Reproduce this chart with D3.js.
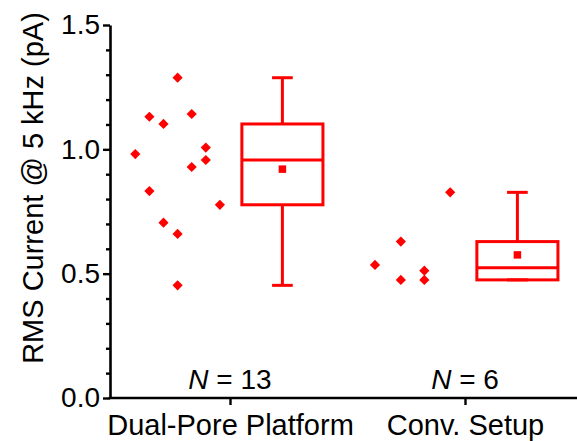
<!DOCTYPE html>
<html>
<head>
<meta charset="utf-8">
<script src="https://cdn.jsdelivr.net/npm/d3@7"></script>
<style>
  body { margin: 0; background: #fff; }
  svg { display: block; font-family: "Liberation Sans", Arial, sans-serif; }
</style>
</head>
<body>
<svg width="577" height="441"></svg>
<script>
var categories = ["Dual-Pore Platform", "Conv. Setup"];
var nLabels = ["13", "6"];

// RMS current values (pA) and their jitter offsets (category units)
var dualValues = [1.288, 1.142, 1.131, 1.102, 1.007, 0.981, 0.957, 0.929, 0.832, 0.777, 0.705, 0.660, 0.453];
var dualJitter = [0, 0.06, -0.12, -0.06, 0.12, -0.18, 0.12, 0.06, -0.12, 0.18, -0.06, 0, 0];
var convValues = [0.827, 0.629, 0.535, 0.512, 0.475, 0.475];
var convJitter = [0.16, -0.05, -0.16, 0.05, -0.05, 0.05];

var yTicks = [0, 0.5, 1.0, 1.5];

var groups = [
  {cat: 1, values: dualValues, jitter: dualJitter},
  {cat: 2, values: convValues, jitter: convJitter}
];

var red = "#ff0000";
var svg = d3.select("svg");
// note: "top" clashes with window.top, so plot edges get their own names
var plotLeft = 110, plotRight = 577, plotTop = 25, plotBottom = 398;

var xScale = d3.scaleLinear().domain([1, 2]).range([230, 465]);
var yScale = d3.scaleLinear().domain([0, 1.5]).range([plotBottom, plotTop]);

// tukey hinges, like Origin's box chart
var boxStats = function(vals) {
  var s = vals.slice().sort(d3.ascending);
  var half = Math.ceil(s.length / 2);
  return {
    min: s[0], max: s[s.length - 1],
    q1: d3.median(s.slice(0, half)),
    q3: d3.median(s.slice(s.length - half)),
    med: d3.median(s),
    mean: d3.mean(s)
  };
};

var pointShift = -0.223, boxShift = 0.223, boxW = 0.345, capW = 0.088;

// y axis
var yAxis = svg.append("g")
  .attr("transform", "translate(" + plotLeft + ",0)")
  .call(d3.axisLeft(yScale).tickValues(yTicks).tickFormat(d3.format(".1f"))
    .tickSize(7).tickSizeOuter(0).tickPadding(3));
yAxis.select(".domain").attr("stroke-width", 2.6);
yAxis.selectAll(".tick line").attr("stroke-width", 2.4);
yAxis.selectAll(".tick text").attr("font-size", 28).attr("font-family", null).attr("fill", "#000");

var minor = d3.range(1, 15).map(function(d) { return d / 10; })
  .filter(function(d) { return Math.round(d * 10) % 5 != 0; });
svg.append("g")
  .attr("transform", "translate(" + plotLeft + ",0)")
  .call(d3.axisLeft(yScale).tickValues(minor).tickFormat("").tickSize(4).tickSizeOuter(0))
  .call(function(g) {
    g.select(".domain").remove();
    g.selectAll(".tick line").attr("stroke-width", 2.4);
  });

// x axis
var xAxis = svg.append("g")
  .attr("transform", "translate(0," + plotBottom + ")")
  .call(d3.axisBottom(xScale).tickValues([1, 2])
    .tickFormat(function(d) { return categories[d - 1]; })
    .tickSize(7).tickSizeOuter(0).tickPadding(9.5));
xAxis.select(".domain").remove();
xAxis.selectAll(".tick line").attr("stroke-width", 2.4);
xAxis.selectAll(".tick text").attr("font-size", 29).attr("font-family", null).attr("fill", "#000");
svg.append("line")
  .attr("x1", plotLeft - 1.3).attr("x2", plotRight)
  .attr("y1", plotBottom).attr("y2", plotBottom)
  .attr("stroke", "#000").attr("stroke-width", 2.6);

// y label
svg.append("text")
  .attr("transform", "translate(43,188) rotate(-90)")
  .attr("text-anchor", "middle")
  .attr("font-size", 29)
  .text("RMS Current @ 5 kHz (pA)");

// N labels
var nText = svg.selectAll(".nlab")
  .data(nLabels)
  .enter()
  .append("text")
  .attr("class", "nlab")
  .attr("x", function(d, i) { return xScale(i + 1); })
  .attr("y", 389)
  .attr("text-anchor", "middle")
  .attr("font-size", 28);
nText.append("tspan").attr("font-style", "italic").text("N");
nText.append("tspan").text(function(d) { return " = " + d; });

// scatter points
var diamond = d3.symbol().type(d3.symbolSquare).size(52);
groups.forEach(function(g) {
  svg.append("g")
    .selectAll("path")
    .data(g.values)
    .enter()
    .append("path")
    .attr("d", diamond)
    .attr("transform", function(d, i) {
      var x = xScale(g.cat + pointShift + g.jitter[i]);
      return "translate(" + x + "," + yScale(d) + ") rotate(45)";
    })
    .attr("fill", red);
});

// box charts
groups.forEach(function(g) {
  var st = boxStats(g.values);
  var cx = xScale(g.cat + boxShift);
  var hw = (xScale(1 + boxW) - xScale(1)) / 2;
  var cw = (xScale(1 + capW) - xScale(1)) / 2;
  var b = svg.append("g").attr("stroke", red).attr("stroke-width", 3).attr("fill", "none");

  b.append("line").attr("x1", cx).attr("x2", cx).attr("y1", yScale(st.q3)).attr("y2", yScale(st.max));
  b.append("line").attr("x1", cx).attr("x2", cx).attr("y1", yScale(st.q1)).attr("y2", yScale(st.min));
  b.append("line").attr("x1", cx - cw).attr("x2", cx + cw).attr("y1", yScale(st.max)).attr("y2", yScale(st.max));
  b.append("line").attr("x1", cx - cw).attr("x2", cx + cw).attr("y1", yScale(st.min)).attr("y2", yScale(st.min));
  b.append("rect")
    .attr("x", cx - hw).attr("width", hw * 2)
    .attr("y", yScale(st.q3)).attr("height", yScale(st.q1) - yScale(st.q3));
  b.append("line").attr("x1", cx - hw).attr("x2", cx + hw).attr("y1", yScale(st.med)).attr("y2", yScale(st.med));

  svg.append("path")
    .attr("d", d3.symbol().type(d3.symbolSquare).size(56))
    .attr("transform", "translate(" + cx + "," + yScale(st.mean) + ")")
    .attr("fill", red);
});
</script>
</body>
</html>
